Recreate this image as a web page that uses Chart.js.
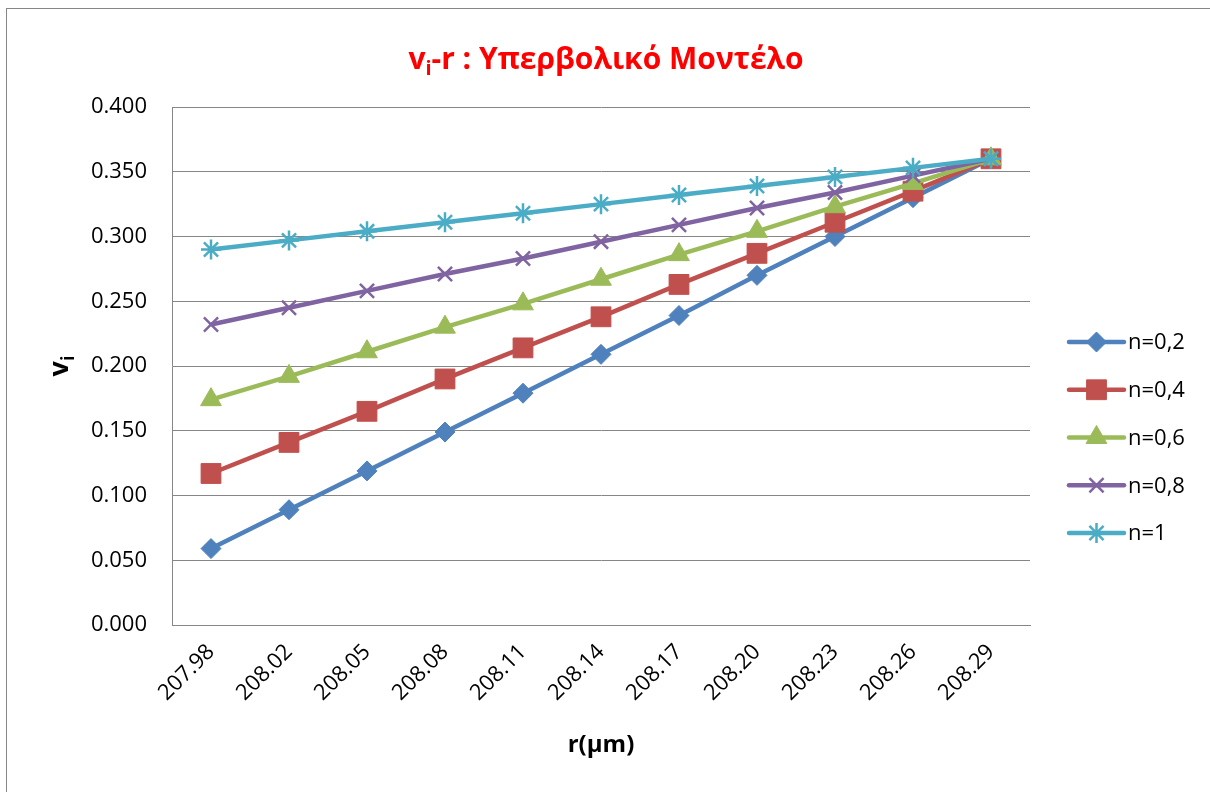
<!DOCTYPE html>
<html>
<head>
<meta charset="utf-8">
<script src="https://cdn.jsdelivr.net/npm/chart.js@4.4.1/dist/chart.umd.min.js"></script>
<style>
    html, body { margin: 0; padding: 0; background: #fff; }
</style>
</head>
<body>
<canvas id="chart" width="1210" height="792"></canvas>
<script>
// data
const radii = ['207.98', '208.02', '208.05', '208.08', '208.11', '208.14', '208.17', '208.20', '208.23', '208.26', '208.29'];
const n02 = [0.059, 0.089, 0.119, 0.149, 0.179, 0.209, 0.239, 0.270, 0.300, 0.330, 0.360];
const n04 = [0.117, 0.141, 0.165, 0.190, 0.214, 0.238, 0.263, 0.287, 0.311, 0.335, 0.360];
const n06 = [0.174, 0.192, 0.211, 0.230, 0.248, 0.267, 0.286, 0.304, 0.323, 0.341, 0.360];
const n08 = [0.232, 0.245, 0.258, 0.271, 0.283, 0.296, 0.309, 0.322, 0.334, 0.347, 0.360];
const n10 = [0.290, 0.297, 0.304, 0.311, 0.318, 0.325, 0.332, 0.339, 0.346, 0.353, 0.360];
const seriesNames = ['n=0,2', 'n=0,4', 'n=0,6', 'n=0,8', 'n=1'];
const yTicks = [0, 0.05, 0.1, 0.15, 0.2, 0.25, 0.3, 0.35, 0.4];

const FONT = '"Open Sans", "Noto Sans", sans-serif';
const GRAY = '#868686';

const styles = [
    { color: '#4F81BD', pointStyle: 'rectRot', radius: 10, bw: 1 },
    { color: '#C0504D', pointStyle: 'rect', radius: 14, bw: 1 },
    { color: '#9BBB59', pointStyle: 'triangle', radius: 12, bw: 1 },
    { color: '#8064A2', pointStyle: 'crossRot', radius: 10, bw: 2.5 },
    { color: '#4BACC6', pointStyle: 'star', radius: 10, bw: 2.5 }
];

const allSeries = [n02, n04, n06, n08, n10];
const datasets = allSeries.map((values, i) => ({
    label: seriesNames[i],
    data: values,
    borderColor: styles[i].color,
    backgroundColor: styles[i].color,
    pointBackgroundColor: styles[i].color,
    pointBorderColor: styles[i].color,
    pointStyle: styles[i].pointStyle,
    pointRadius: styles[i].radius,
    pointBorderWidth: styles[i].bw,
    borderWidth: 4.5,
    tension: 0,
    order: allSeries.length - i
}));

// text with a subscript part, drawn centred at (cx, cy)
function drawSubText(ctx, parts, size, cx, cy, color) {
    ctx.save();
    ctx.fillStyle = color;
    ctx.textBaseline = 'alphabetic';
    ctx.textAlign = 'left';
    let total = 0;
    parts.forEach(p => {
        ctx.font = `bold ${p.sub ? Math.round(size * 0.65) : size}px ${FONT}`;
        p.w = ctx.measureText(p.text).width;
        total += p.w;
    });
    let x = cx - total / 2;
    const base = cy + size * 0.36;
    parts.forEach(p => {
        ctx.font = `bold ${p.sub ? Math.round(size * 0.65) : size}px ${FONT}`;
        ctx.fillText(p.text, x, p.sub ? base + size * 0.22 : base);
        x += p.w;
    });
    ctx.restore();
}

const decorPlugin = {
    id: 'decor',
    beforeDraw(chart) {
        const ctx = chart.ctx;
        ctx.save();
        ctx.strokeStyle = GRAY;
        ctx.lineWidth = 1;
        ctx.strokeRect(6.5, 8.5, 1300, 900);
        ctx.restore();
    },
    afterDraw(chart) {
        const ctx = chart.ctx;
        // chart title
        drawSubText(ctx, [{ text: 'v' }, { text: 'i', sub: true }, { text: '-r : Υπερβολικό Μοντέλο' }],
            30, 606, 58, '#FF0000');

        // y axis title, rotated
        ctx.save();
        ctx.translate(62, 366);
        ctx.rotate(-Math.PI / 2);
        drawSubText(ctx, [{ text: 'v' }, { text: 'i', sub: true }], 27, 0, -4, '#000');
        ctx.restore();

        // legend: line sample with marker
        const lx0 = 1069, lx1 = 1124, ly0 = 342, step = 47.75;
        chart.data.datasets.forEach((ds, i) => {
            const y = ly0 + i * step;
            ctx.save();
            ctx.strokeStyle = ds.borderColor;
            ctx.lineWidth = 4.5;
            ctx.lineCap = 'round';
            ctx.beginPath();
            ctx.moveTo(lx0, y);
            ctx.lineTo(lx1, y);
            ctx.stroke();
            ctx.fillStyle = ds.pointBackgroundColor;
            ctx.strokeStyle = ds.pointBorderColor;
            ctx.lineWidth = ds.pointBorderWidth;
            ctx.lineCap = 'butt';
            Chart.helpers.drawPoint(ctx, {
                pointStyle: ds.pointStyle,
                rotation: 0,
                radius: ds.pointRadius,
                borderWidth: ds.pointBorderWidth
            }, (lx0 + lx1) / 2, y);
            ctx.fillStyle = '#000';
            ctx.font = `22px ${FONT}`;
            ctx.textBaseline = 'middle';
            ctx.textAlign = 'left';
            ctx.fillText(ds.label, lx1 + 4, y + 1);
            ctx.restore();
        });
    }
};

new Chart(document.getElementById('chart'), {
    type: 'line',
    data: { labels: radii, datasets: datasets },
    plugins: [decorPlugin],
    options: {
        responsive: false,
        animation: false,
        events: [],
        layout: { padding: { top: 107, left: 10, right: 180, bottom: 0 } },
        plugins: {
            legend: { display: false },
            title: { display: false },
            tooltip: { enabled: false }
        },
        scales: {
            x: {
                offset: true,
                grid: { display: false, drawTicks: false },
                border: { display: true, color: GRAY, width: 1 },
                ticks: {
                    color: '#000',
                    font: { family: FONT, size: 22 },
                    maxRotation: 45,
                    minRotation: 45,
                    padding: 14,
                    autoSkip: false
                },
                title: {
                    display: true,
                    text: 'r(μm)',
                    color: '#000',
                    font: { family: FONT, size: 24, weight: 'bold' },
                    padding: { top: 0, bottom: 32 }
                },
                afterFit(scale) { scale.height = 167; }
            },
            y: {
                min: 0,
                max: 0.4,
                afterBuildTicks(scale) { scale.ticks = yTicks.map(v => ({ value: v })); },
                grid: { color: GRAY, lineWidth: 1, drawTicks: false },
                border: { display: true, color: GRAY, width: 1 },
                ticks: {
                    color: '#000',
                    font: { family: FONT, size: 22 },
                    padding: 25,
                    callback: v => Number(v).toFixed(3)
                },
                afterFit(scale) { scale.width = 162; }
            }
        }
    }
});
</script>
</body>
</html>
